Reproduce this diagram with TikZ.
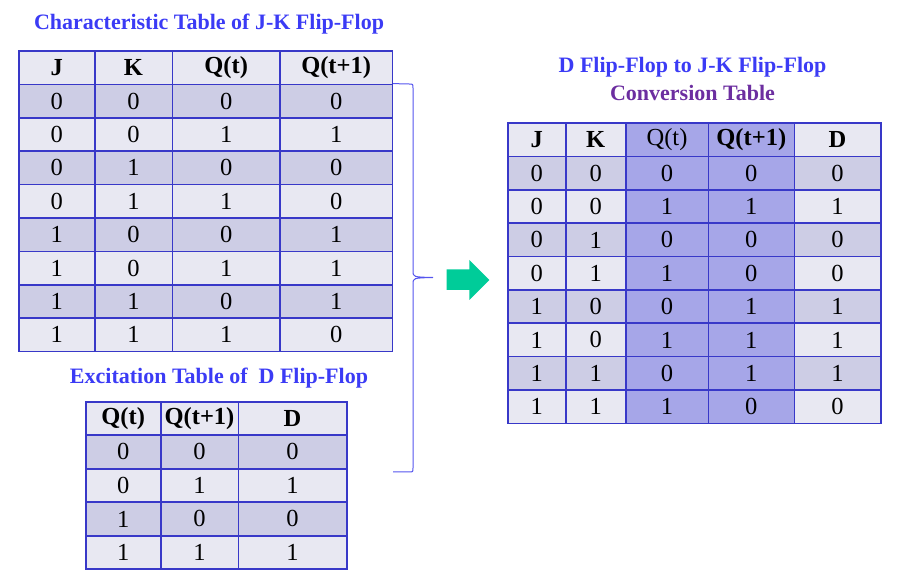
\documentclass[tikz,border=0pt]{standalone}
\usepackage{fontspec}
\setmainfont{Liberation Serif}
\usetikzlibrary{positioning}
\definecolor{rowlight}{HTML}{E8E8F2}
\definecolor{rowdark}{HTML}{CDCDE5}
\definecolor{qcol}{HTML}{A6A6E8}
\definecolor{gridline}{HTML}{3838C8}
\definecolor{titleblue}{HTML}{3B3BF5}
\definecolor{convpurple}{HTML}{6C2EA0}
\definecolor{arrowgreen}{HTML}{00CC99}
\definecolor{bracepen}{HTML}{5555EE}
\pgfdeclarelayer{bg}
\pgfsetlayers{bg,main}

\begin{document}
\begin{tikzpicture}[x=1pt,y=-1pt,
	cell/.style={draw=gridline,line width=1.6pt,inner sep=0pt,minimum height=33.4pt,font=\fontsize{24.5}{24.5}\selectfont},
	title/.style={font=\fontsize{22}{22}\selectfont\bfseries,text=titleblue,inner sep=0pt}]
	\useasboundingbox (0,0) rectangle (898,577);

	% characteristic table of J-K flip-flop
	\foreach \row [count=\r from 0] in {{\textbf{J},\textbf{K},\textbf{Q(t)},\textbf{Q(t+1)}},{0,0,0,0},{0,0,1,1},{0,1,0,0},{0,1,1,0},{1,0,0,1},{1,0,1,1},{1,1,0,1},{1,1,1,0}}{
		\foreach \v [count=\c] in \row {
			\pgfmathsetmacro\xl{{19,94.7,172.3,280,392.3}[\c-1]}
			\pgfmathsetmacro\xr{{19,94.7,172.3,280,392.3}[\c]}
			\ifodd\r \def\cellfill{rowdark}\else \def\cellfill{rowlight}\fi
			\node[cell,minimum width={(\xr-\xl)*1pt}] (jk-\r-\c) at ({(\xl+\xr)/2},{51+(\r+0.5)*33.4}) {\v};
			\begin{pgfonlayer}{bg}
				\fill[\cellfill] (jk-\r-\c.north west) rectangle (jk-\r-\c.south east);
			\end{pgfonlayer}
		}
	}
	\node[title] (jktitle) at (209,24) {Characteristic Table of J-K Flip-Flop};

	% excitation table of D flip-flop
	\foreach \row [count=\r from 0] in {{\textbf{Q(t)},\textbf{Q(t+1)},\textbf{D}},{0,0,0},{0,1,1},{1,0,0},{1,1,1}}{
		\foreach \v [count=\c] in \row {
			\pgfmathsetmacro\xl{{85.7,160.7,238.3,346.7}[\c-1]}
			\pgfmathsetmacro\xr{{85.7,160.7,238.3,346.7}[\c]}
			\ifodd\r \def\cellfill{rowdark}\else \def\cellfill{rowlight}\fi
			\node[cell,minimum width={(\xr-\xl)*1pt}] (dx-\r-\c) at ({(\xl+\xr)/2},{401.7+(\r+0.5)*33.5}) {\v};
			\begin{pgfonlayer}{bg}
				\fill[\cellfill] (dx-\r-\c.north west) rectangle (dx-\r-\c.south east);
			\end{pgfonlayer}
		}
	}
	\node[title] (dtitle) at (219,378) {Excitation Table of\ \ D Flip-Flop};

	% conversion table
	\foreach \row [count=\r from 0] in {{\textbf{J},\textbf{K},Q(t),\textbf{Q(t+1)},\textbf{D}},{0,0,0,0,0},{0,0,1,1,1},{0,1,0,0,0},{0,1,1,0,0},{1,0,0,1,1},{1,0,1,1,1},{1,1,0,1,1},{1,1,1,0,0}}{
		\foreach \v [count=\c] in \row {
			\pgfmathsetmacro\xl{{507.7,565.7,625.7,708.3,794.3,880.7}[\c-1]}
			\pgfmathsetmacro\xr{{507.7,565.7,625.7,708.3,794.3,880.7}[\c]}
			\ifodd\r \def\cellfill{rowdark}\else \def\cellfill{rowlight}\fi
			\ifnum\c>2 \ifnum\c<5 \def\cellfill{qcol}\fi\fi
			\node[cell,minimum width={(\xr-\xl)*1pt}] (cv-\r-\c) at ({(\xl+\xr)/2},{123.3+(\r+0.5)*33.33}) {\v};
			\begin{pgfonlayer}{bg}
				\fill[\cellfill] (cv-\r-\c.north west) rectangle (cv-\r-\c.south east);
			\end{pgfonlayer}
		}
	}
	\node[title] (convtitle) at (692.5,67) {D Flip-Flop to J-K Flip-Flop};
	\node[title,text=convpurple] (convsub) at (692.5,93) {Conversion Table};

	% brace and arrow
	\coordinate (bracebot) at (393,472);
	\draw[bracepen,line width=1pt] (jk-1-4.north east) -- (409,84) .. controls (413,84) .. (413,88) -- (413,271) .. controls (413,277) .. (433,277.5) .. controls (413,278) .. (413,284) -- (413,468) .. controls (413,472) .. (409,472) -- (bracebot);
	\fill[arrowgreen] (446.7,269.3) -- (469.3,269.3) -- (469.3,260) -- (489.3,280) -- (469.3,300) -- (469.3,290) -- (446.7,290) -- cycle;
\end{tikzpicture}
\end{document}
